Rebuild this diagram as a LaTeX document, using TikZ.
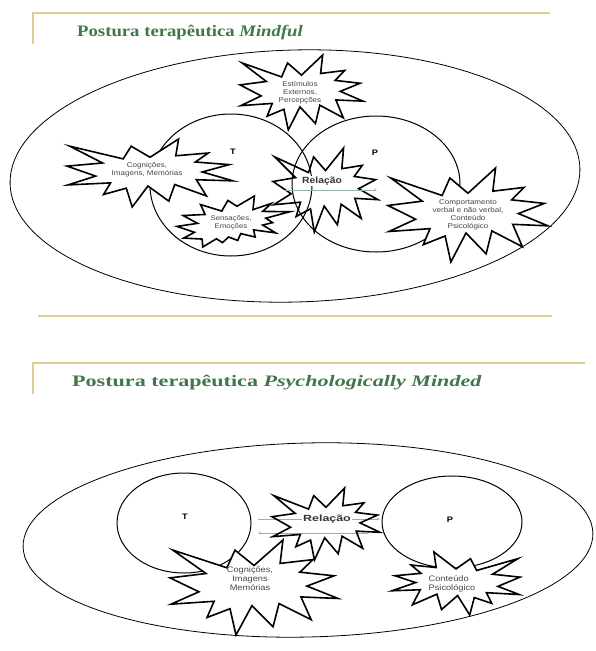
\documentclass[tikz,border=0pt]{standalone}
\usepackage{fontspec}
\setmainfont{Liberation Serif}
\newfontfamily\labf[FakeStretch=1.15]{Liberation Sans}
\newfontfamily\titf[FakeStretch=1.17]{Liberation Serif}
\usetikzlibrary{shapes.geometric,arrows.meta}
\definecolor{titgreen}{RGB}{64,118,72}
\definecolor{rulec}{RGB}{222,205,150}
\definecolor{arrowc}{RGB}{150,178,160}
\definecolor{labc}{RGB}{70,70,70}
\newcommand\burstA[5]{\draw[burst,shift={(#1,#2)},xscale=#3/21.6,yscale=#4/21.6,#5]
 (10.8,5.8) -- (14.522,0) -- (14.155,5.325) -- (18.38,4.457) -- (16.702,7.315) -- (21.097,8.137) -- (17.607,10.475) -- (21.6,13.29) -- (16.837,12.942) -- (18.145,18.095) -- (14.02,14.457) -- (13.247,19.737) -- (10.532,14.935) -- (8.485,21.6) -- (7.715,15.627) -- (4.762,17.617) -- (5.667,13.937) -- (0.135,14.587) -- (3.722,11.775) -- (0,8.615) -- (4.627,7.617) -- (0.37,2.295) -- (7.312,6.32) -- (8.352,2.295) -- cycle;}
\newcommand\burstB[5]{\draw[burst,shift={(#1,#2)},xscale=#3/21.6,yscale=#4/21.6,#5]
 (11.462,4.342) -- (14.79,0) -- (14.525,5.777) -- (18.007,3.172) -- (16.38,6.532) -- (21.6,6.645) -- (16.985,9.402) -- (18.27,11.29) -- (16.38,12.31) -- (18.877,15.632) -- (14.64,14.35) -- (14.942,17.37) -- (12.18,15.935) -- (11.612,18.842) -- (9.872,17.37) -- (8.7,19.712) -- (7.527,18.125) -- (4.917,21.6) -- (4.805,18.24) -- (1.285,17.825) -- (3.33,15.37) -- (0,12.877) -- (3.935,11.592) -- (1.172,8.27) -- (5.372,7.817) -- (4.502,3.625) -- (8.55,6.382) -- (9.722,1.887) -- cycle;}
\tikzset{
  burst/.style={draw=black,line width=1.6pt,line join=miter,fill=white},
  hollow/.style={fill=none},
  bigell/.style={draw=black,line width=0.8pt},
  circ/.style={ellipse,draw=black,line width=1pt,inner sep=0pt},
  rulel/.style={draw=rulec,line width=1.4pt},
  title/.style={anchor=west,inner sep=0pt,text=titgreen,font=\titf\bfseries\fontsize{16}{18}\selectfont},
  lab/.style={align=center,inner sep=0pt,text=labc,font=\labf\fontsize{7}{8}\selectfont},
  labb/.style={align=center,inner sep=0pt,text=labc,font=\labf\fontsize{8}{9}\selectfont},
  tp/.style={inner sep=0pt,font=\labf\bfseries\fontsize{8}{9}\selectfont},
  rel/.style={inner sep=1pt,fill=white,text=black!80,font=\labf\bfseries\fontsize{9}{10}\selectfont},
  relarrow/.style={draw=arrowc,line width=0.7pt,-{Stealth[length=3pt,width=2.5pt]}},
}
\begin{document}
\begin{tikzpicture}[x=1pt,y=-1pt]
\useasboundingbox (0,0) rectangle (595,651);
% ---------- top panel ----------
\coordinate (r1a) at (33,13); \coordinate (r1b) at (550,13); \coordinate (r1c) at (33,44);
\draw[rulel] (r1b) -- (r1a) -- (r1c);
\coordinate (r2a) at (38,316); \coordinate (r2b) at (552,316);
\draw[rulel,line width=1.2pt] (r2a) -- (r2b);
\node[title] (title1) at (77,33) {Postura terapêutica \textit{Mindful}};
\coordinate (e1) at (295,176);
\draw[bigell,rotate around={1.6:(e1)}] (e1) ellipse [x radius=285pt, y radius=126pt];
\node[circ,minimum width=162pt,minimum height=142pt] (T1) at (231,185) {};
\node[circ,minimum width=168pt,minimum height=136pt] (P1) at (376,184) {};
\burstA{67}{139}{166}{68}{}
\burstB{177}{196}{113}{51}{}
\burstA{240}{55}{123}{75}{}
\burstA{388}{168}{160}{94}{}
\burstA{273}{148}{105}{84}{hollow}
\coordinate (a1) at (285,190); \coordinate (a2) at (377,190);
\draw[relarrow] (a1) -- (a2);
\node[lab] (estim) at (300,93) {Estímulos\\Externos,\\Percepções};
\node[lab] (cog1) at (147,170) {Cognições,\\Imagens, Memórias};
\node[lab,font=\labf\fontsize{6.8}{7.8}\selectfont] (sens) at (231,223) {Sensações,\\Emoções};
\node[lab] (comp) at (468,215) {Comportamento\\verbal e não verbal,\\Conteúdo\\Psicológico};
\node[tp] (t1) at (233,152) {T};
\node[tp] (p1) at (375,153) {P};
\node[rel] (rel1) at (322,181) {Relação};
% ---------- bottom panel ----------
\coordinate (r3a) at (33,363); \coordinate (r3b) at (585,363); \coordinate (r3c) at (33,394);
\draw[rulel] (r3b) -- (r3a) -- (r3c);
\node[title] (title2) at (72,383) {\scalebox{1.18}[1]{Postura terapêutica \textit{Psychologically Minded}}};
\coordinate (e2) at (308,540);
\draw[bigell,rotate around={1.4:(e2)}] (e2) ellipse [x radius=285pt, y radius=97pt];
\node[circ,minimum width=134pt,minimum height=100pt] (T2) at (184,523) {};
\node[circ,minimum width=140pt,minimum height=92pt] (P2) at (452,522) {};
\coordinate (b1) at (258,519); \coordinate (b2) at (380,519);
\coordinate (b3) at (368,533); \coordinate (b4) at (258,533);
\draw[relarrow] (b1) -- (b2);
\draw[relarrow] (b3) -- (b4);
\burstA{170}{540}{168}{95}{}
\burstA{520}{552}{-128}{63}{}
\burstA{272}{488}{108}{72}{hollow}
\node[labb] (cog2) at (250,579) {Cognições,\\Imagens\\Memórias};
\node[labb,align=left] (cont) at (452,584) {Conteúdo\\Psicológico};
\node[tp] (t2) at (185,517) {T};
\node[tp] (p2) at (450,520) {P};
\node[rel] (rel2) at (327,519) {\scalebox{1.2}[1]{Relação}};
\end{tikzpicture}
\end{document}
